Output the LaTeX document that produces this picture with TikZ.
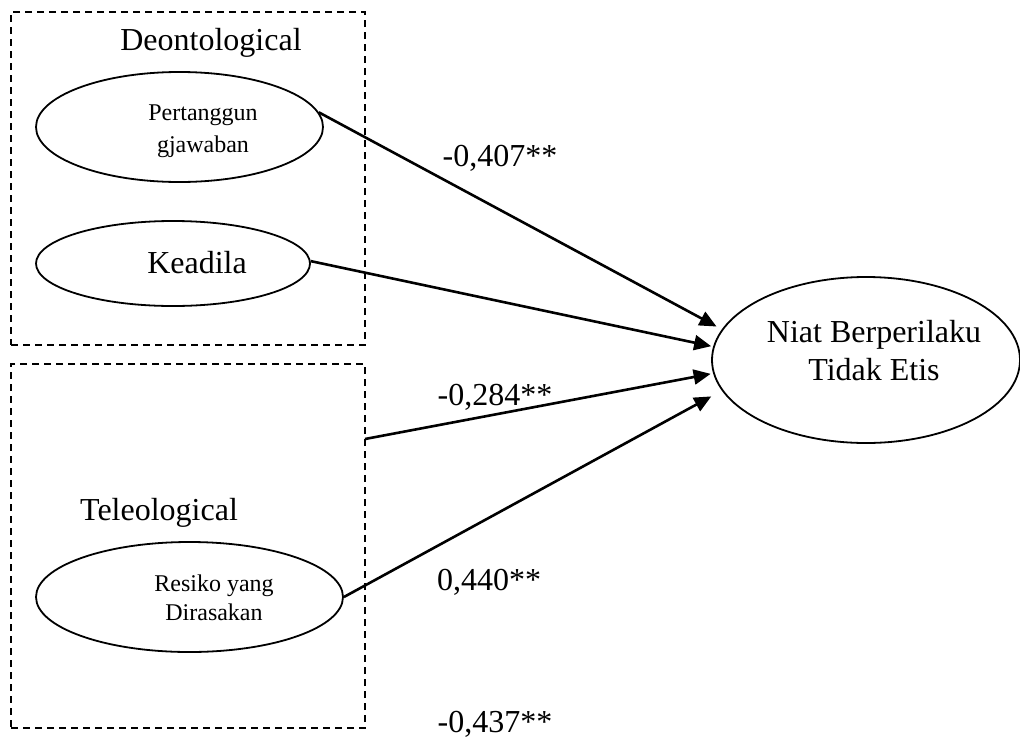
\documentclass[tikz,border=0pt]{standalone}
\usepackage{fontspec}
\setmainfont{Liberation Serif}
\usetikzlibrary{shapes.geometric,arrows.meta}
\begin{document}
\begin{tikzpicture}[x=1pt,y=-1pt,
  groupbox/.style={draw,line width=1.6pt,dash pattern=on 7pt off 5pt,inner sep=0pt},
  oval/.style={draw,ellipse,line width=1.8pt,inner sep=0pt},
  bigtext/.style={font=\fontsize{32}{38}\selectfont,inner sep=0pt,align=center},
  smalltext/.style={font=\fontsize{24}{30}\selectfont,inner sep=0pt,align=center},
  path/.style={line width=2.6pt,-{Triangle[length=17pt,width=15pt]}}]
\useasboundingbox (0,0) rectangle (1020,742);
% group boxes
\node[groupbox,minimum width=354pt,minimum height=333pt] (deon) at (188,178.5) {};
\node[groupbox,minimum width=354pt,minimum height=364pt] (tele) at (188,546) {};
\node[bigtext] (deonlabel) at (211,43) {Deontological};
\node[bigtext] (telelabel) at (159,513) {Teleological};
% ellipses
\node[oval,minimum width=287pt,minimum height=110pt] (pert) at (179.5,127) {};
\node[smalltext,font=\fontsize{24}{32}\selectfont] (perttext) at (203,131) {Pertanggun\\gjawaban};
\node[oval,minimum width=274pt,minimum height=85pt] (keadila) at (173,263.5) {};
\node[bigtext] (keadilatext) at (197,263) {Keadila};
\node[oval,minimum width=307pt,minimum height=110pt] (resiko) at (189.5,597) {};
\node[smalltext,font=\fontsize{24}{29}\selectfont] (resikotext) at (214,598) {Resiko yang\\Dirasakan};
\node[oval,minimum width=308pt,minimum height=166pt] (niat) at (866,360) {};
\node[bigtext,font=\fontsize{32}{38}\selectfont] (niattext) at (874,351) {Niat Berperilaku\\Tidak Etis};
% connector start on box edge
\coordinate (telestart) at (365,439);
% arrows
\draw[path,shorten >=6pt] (pert.6) -- (niat.168.2);
\draw[path,shorten >=2pt] (keadila.1) -- (niat.175.3);
\draw[path,shorten >=2.5pt] (telestart) -- (niat.185.5);
\draw[path,shorten >=12pt] (resiko.east) -- (niat.192.2);
% coefficients
\node[bigtext] (c1) at (500,158) {-0,407**};
\node[bigtext] (c2) at (495,397) {-0,284**};
\node[bigtext] (c3) at (489,582) {0,440**};
\node[bigtext] (c4) at (495,724) {-0,437**};
\end{tikzpicture}
\end{document}
